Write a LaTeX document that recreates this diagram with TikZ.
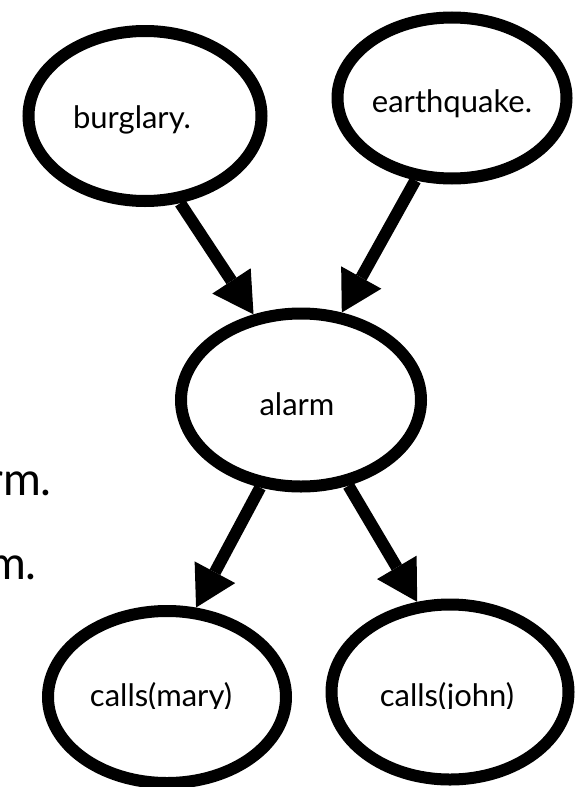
\documentclass[tikz,border=0pt]{standalone}
\usepackage{fontspec}
\setmainfont{Lato}
\usetikzlibrary{shapes.geometric,arrows.meta}
\begin{document}
\begin{tikzpicture}[x=1pt,y=-1pt,
  var/.style={ellipse,draw=black,line width=12pt,fill=white,inner sep=0pt},
  lbl/.style={anchor=base,inner sep=0pt,font=\fontsize{31}{34}\selectfont},
  big/.style={anchor=base east,inner sep=0pt,font=\fontsize{46}{50}\selectfont},
  edge/.style={line width=12pt,-{Triangle[length=40pt,width=46pt,line width=0pt]}}]
\useasboundingbox (0,0) rectangle (576,787);
% cut-off text at the left margin
\node[big] (frag1) at (52,495) {rm.};
\node[big] (frag2) at (37,579) {m.};
% network nodes
\node[var,minimum width=233pt,minimum height=170pt] (burglary) at (145,116) {};
\node[var,minimum width=229pt,minimum height=161pt] (earthquake) at (452,98) {};
\node[var,minimum width=240pt,minimum height=173pt] (alarm) at (301,400) {};
\node[var,minimum width=238pt,minimum height=172pt] (mary) at (167,697) {};
\node[var,minimum width=237pt,minimum height=175pt] (john) at (450,692) {};
% labels
\node[lbl] (burglary-t) at (132,128) {burglary.};
\node[lbl] (earthquake-t) at (452,112) {earthquake.};
\node[lbl] (alarm-t) at (297,415) {alarm};
% the lower labels are cut just under their baseline
\begin{scope}
  \clip (60,640) rectangle (560,708);
  \node[lbl] (mary-t) at (161,706) {calls(mary)};
  \node[lbl] (john-t) at (447,706) {calls(john)};
\end{scope}
% dependencies
\draw[edge] (burglary.-68.5) -- (alarm.119.5);
\draw[edge] (earthquake.-114.5) -- (alarm.65);
\draw[edge] (alarm.-115) -- (mary.72);
\draw[edge] (alarm.-61.6) -- (john.110);
\end{tikzpicture}
\end{document}
